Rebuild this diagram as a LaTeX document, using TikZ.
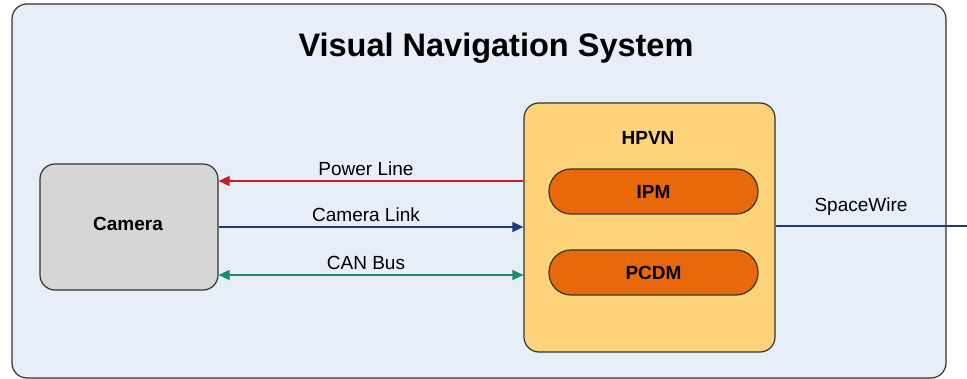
\documentclass[tikz,border=0pt]{standalone}
\usepackage{fontspec}
\setmainfont{Liberation Sans}
\usetikzlibrary{arrows.meta,positioning}
\definecolor{sysfill}{HTML}{E7EEF8}
\definecolor{edge}{HTML}{333333}
\definecolor{camfill}{HTML}{D6D6D6}
\definecolor{hpvnfill}{HTML}{FDD37A}
\definecolor{modfill}{HTML}{E8690A}
\definecolor{pwr}{HTML}{CC1B22}
\definecolor{lnk}{HTML}{1F3A7A}
\definecolor{can}{HTML}{1B8A6B}
\tikzset{
  box/.style={draw=edge, line width=1.2pt, rounded corners=15pt, inner sep=0pt},
  modbox/.style={draw=edge, line width=1.2pt, rounded corners=22pt, fill=modfill, inner sep=0pt,
    minimum width=209pt, minimum height=45pt, font=\fontsize{19}{22}\selectfont\bfseries},
  conn/.style={line width=1.5pt, -{Triangle[length=11pt,width=10pt]}},
  lbl/.style={font=\fontsize{19}{22}\selectfont, inner sep=0pt}
}
\begin{document}
\begin{tikzpicture}[x=1pt,y=-1pt]
\useasboundingbox (0,0) rectangle (967,379);
\node[box, fill=sysfill, minimum width=934pt, minimum height=374pt] (sys) at (479,191) {};
\node[font=\fontsize{32.5}{38}\selectfont\bfseries, inner sep=0pt] (title) at (496,48) {Visual Navigation System};
\node[box, fill=camfill, minimum width=178pt, minimum height=126pt] (cam) at (129,227) {};
\node[font=\fontsize{19}{22}\selectfont\bfseries, inner sep=0pt] (caml) at (128,224) {Camera};
\node[box, fill=hpvnfill, minimum width=251pt, minimum height=249pt] (hpvn) at (649.5,227.5) {};
\node[font=\fontsize{19}{22}\selectfont\bfseries, inner sep=0pt] (hpvnl) at (648,138) {HPVN};
\node[modbox] (ipm) at (653.5,191.5) {IPM};
\node[modbox] (pcdm) at (653.5,272.5) {PCDM};
\coordinate (yp) at (0,181);
\coordinate (yl) at (0,227);
\coordinate (yc) at (0,275);
\coordinate (yw) at (0,226);
\coordinate (swend) at (967,226);
\draw[conn, draw=pwr, fill=pwr] (hpvn.west |- yp) -- node[lbl, above=5pt, xshift=-5pt] (pl) {Power Line} (cam.east |- yp);
\draw[conn, draw=lnk, fill=lnk] (cam.east |- yl) -- node[lbl, above=5pt, xshift=-5pt] (cl) {Camera Link} (hpvn.west |- yl);
\draw[conn, {Triangle[length=11pt,width=10pt]}-{Triangle[length=11pt,width=10pt]}, draw=can, fill=can] (cam.east |- yc) -- node[lbl, above=5pt, xshift=-5pt] (cb) {CAN Bus} (hpvn.west |- yc);
\draw[line width=1.5pt, draw=lnk] (hpvn.east |- yw) -- (swend);
\node[lbl] (sw) at (861,207) {SpaceWire};
\end{tikzpicture}
\end{document}
